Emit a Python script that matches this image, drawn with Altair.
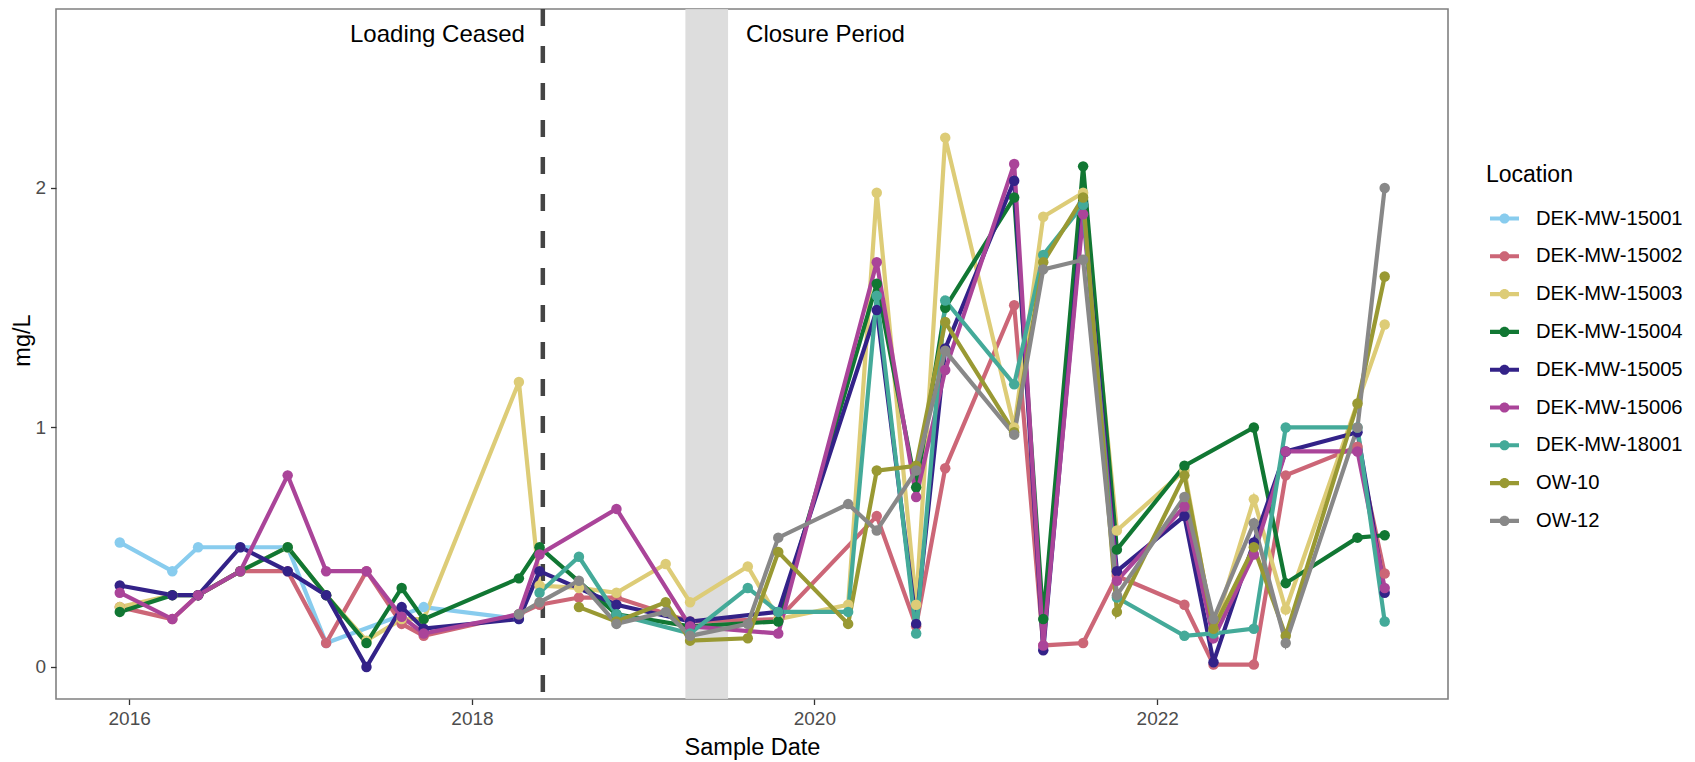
import altair as alt
import pandas as pd

# ---------------- data ----------------
dates = [
    "2015-12-12", "2016-04-02", "2016-05-27", "2016-08-25", "2016-12-04",
    "2017-02-24", "2017-05-21", "2017-08-04", "2017-09-20", "2018-04-11",
    "2018-05-25", "2018-08-17", "2018-11-05", "2019-02-18", "2019-04-11",
    "2019-08-12", "2019-10-16", "2020-03-13", "2020-05-13", "2020-08-05",
    "2020-10-06", "2021-03-02", "2021-05-03", "2021-07-27", "2021-10-07",
    "2022-02-28", "2022-05-01", "2022-07-26", "2022-10-02", "2023-03-04",
    "2023-05-01",
]

locations = ["DEK-MW-15001", "DEK-MW-15002", "DEK-MW-15003", "DEK-MW-15004",
             "DEK-MW-15005", "DEK-MW-15006", "DEK-MW-18001", "OW-10", "OW-12"]
colors = ["#88CCEE", "#CC6677", "#DDCC77", "#117733", "#332288",
          "#AA4499", "#44AA99", "#999933", "#888888"]

N = None
mw15001 = [0.52, 0.40, 0.50, 0.50, 0.50, 0.10, N, N, 0.25, 0.20,
           N, N, N, N, N, N, N, N, N, N,
           N, N, N, N, N, N, N, N, N, N, N]
mw15002 = [0.25, 0.20, 0.30, 0.40, 0.40, 0.10, 0.40, 0.18, 0.13, 0.22,
           0.26, 0.29, 0.29, N, 0.19, N, 0.20, N, 0.63, 0.17,
           0.83, 1.51, 0.09, 0.10, 0.38, 0.26, 0.01, 0.01, 0.80, 0.92, 0.39]
mw15003 = [0.25, 0.30, 0.30, 0.40, 0.50, 0.30, 0.11, 0.20, 0.20, 1.19,
           0.34, 0.33, 0.31, 0.43, 0.27, 0.42, 0.20, 0.26, 1.98, 0.26,
           2.21, 1.00, 1.88, 1.98, 0.57, 0.82, 0.15, 0.70, 0.24, N, 1.43]
mw15004 = [0.23, 0.30, 0.30, 0.40, 0.50, 0.30, 0.10, 0.33, 0.20, 0.37,
           0.50, N, 0.22, N, 0.17, N, 0.19, N, 1.60, 0.75,
           1.50, 1.96, 0.20, 2.09, 0.49, 0.84, N, 1.00, 0.35, 0.54, 0.55]
mw15005 = [0.34, 0.30, 0.30, 0.50, 0.40, 0.30, 0.00, 0.25, 0.16, 0.20,
           0.40, N, 0.26, N, 0.19, N, 0.23, N, 1.49, 0.18,
           1.33, 2.03, 0.07, 1.93, 0.40, 0.63, 0.02, 0.52, 0.90, 0.98, 0.31]
mw15006 = [0.31, 0.20, 0.30, 0.40, 0.80, 0.40, 0.40, 0.21, 0.14, 0.22,
           0.47, N, 0.66, N, 0.17, N, 0.14, N, 1.69, 0.71,
           1.24, 2.10, 0.09, 1.89, 0.36, 0.67, 0.12, 0.47, 0.90, 0.90, 0.33]
mw18001 = [N, N, N, N, N, N, N, N, N, N,
           0.31, 0.46, 0.22, N, 0.14, 0.33, 0.23, 0.23, 1.55, 0.14,
           1.53, 1.18, 1.72, 1.93, 0.29, 0.13, 0.14, 0.16, 1.00, 1.00, 0.19]
ow10 = [N, N, N, N, N, N, N, N, N, N,
        N, 0.25, 0.19, 0.27, 0.11, 0.12, 0.48, 0.18, 0.82, 0.84,
        1.44, 0.98, 1.69, 1.96, 0.23, 0.80, 0.16, 0.50, 0.13, 1.10, 1.63]
ow12 = [N, N, N, N, N, N, N, N, N, 0.22,
        0.27, 0.36, 0.18, 0.23, 0.13, 0.18, 0.54, 0.68, 0.57, 0.82,
        1.32, 0.97, 1.66, 1.70, 0.30, 0.71, 0.20, 0.60, 0.10, 1.00, 2.00]

series = [mw15001, mw15002, mw15003, mw15004, mw15005, mw15006, mw18001, ow10, ow12]

event_dates = ["2018-06-01"]
event_labels = ["Loading Ceased"]
closure_start = ["2019-04-01"]
closure_end = ["2019-07-01"]
closure_labels = ["Closure Period"]
label_level = [2.64]

# ---------------- tables ----------------
rows = []
for loc, vals in zip(locations, series):
    for d, v in zip(dates, vals):
        if v is not None:
            rows.append({"Date": d, "Location": loc, "Value": v})
df = pd.DataFrame(rows)

ev = pd.DataFrame({"Date": event_dates, "Label": event_labels, "Level": label_level})
cl = pd.DataFrame({"Start": closure_start, "End": closure_end,
                   "Label": closure_labels, "Level": label_level})

FONT = "Liberation Sans"
W, H = 1392, 690

x_scale = alt.Scale(domain=[alt.DateTime(year=2015, month=7, date=29),
                            alt.DateTime(year=2023, month=9, date=13)])
y_scale = alt.Scale(domain=[-0.1336, 2.747], nice=False, zero=False)
color_scale = alt.Scale(domain=locations, range=colors)

x_axis = alt.Axis(
    title="Sample Date",
    values=[alt.DateTime(year=y, month=1, date=1) for y in (2016, 2018, 2020, 2022)],
    format="%Y", grid=False, domain=False, labelPadding=5,
    titleBaseline="middle", titleY=48, titleAnchor="middle",
)
y_axis = alt.Axis(
    title="mg/L", values=[0, 1, 2], format="d", grid=False, domain=False,
    labelPadding=5,
    titleBaseline="middle", titleX=-34, titleY=331, titleAngle=-90,
)

legend_path = ("M-1,-0.14 L1,-0.14 L1,0.14 L-1,0.14 Z "
               "M-0.35,0 A0.35,0.35 0 1,1 0.35,0 "
               "A0.35,0.35 0 1,1 -0.35,0 Z")

shade = alt.Chart(cl).mark_rect(color="#d9d9d9", opacity=0.9).encode(
    x=alt.X("Start:T", scale=x_scale, axis=x_axis),
    x2="End:T",
)

rule = alt.Chart(ev).mark_rule(color="#444444", strokeWidth=4.5,
                               strokeDash=[17, 20]).encode(
    x=alt.X("Date:T", scale=x_scale),
)

lines = alt.Chart(df).mark_line(strokeWidth=4.2).encode(
    x=alt.X("Date:T", scale=x_scale, axis=x_axis),
    y=alt.Y("Value:Q", scale=y_scale, axis=y_axis),
    color=alt.Color("Location:N", scale=color_scale, legend=None),
    order=alt.Order("Date:T"),
)

points = alt.Chart(df).mark_point(filled=True, size=110, opacity=1).encode(
    x=alt.X("Date:T", scale=x_scale),
    y=alt.Y("Value:Q", scale=y_scale),
    color=alt.Color(
        "Location:N", scale=color_scale,
        legend=alt.Legend(
            title="Location", orient="none", legendX=1430, legendY=155,
            symbolType=legend_path, symbolSize=841, symbolStrokeWidth=0,
            symbolOffset=4, labelOffset=17, rowPadding=12.8, titlePadding=17,
            padding=0,
        ),
    ),
)

txt_left = alt.Chart(ev).mark_text(
    align="right", baseline="middle", dx=-18, fontSize=24, font=FONT, color="black"
).encode(
    x=alt.X("Date:T", scale=x_scale),
    y=alt.Y("Level:Q", scale=y_scale),
    text="Label:N",
)
txt_right = alt.Chart(cl).mark_text(
    align="left", baseline="middle", dx=18, fontSize=24, font=FONT, color="black"
).encode(
    x=alt.X("End:T", scale=x_scale),
    y=alt.Y("Level:Q", scale=y_scale),
    text="Label:N",
)

chart = alt.layer(shade, rule, lines, points, txt_left, txt_right).resolve_legend(
    color="independent"
).properties(
    width=W, height=H,
    autosize=alt.AutoSizeParams(type="none"),
    padding={"left": 48, "top": 1, "right": 239, "bottom": 62},
).configure(
    font=FONT,
).configure_view(
    stroke="#808080", strokeWidth=1.6, fill="white",
).configure_axis(
    labelFont=FONT, labelFontSize=19, labelColor="#4d4d4d",
    tickColor="#333333", tickWidth=1.3, tickSize=5.5,
    titleFont=FONT, titleFontSize=23.5, titleFontWeight="normal", titleColor="black",
).configure_legend(
    titleFont=FONT, titleFontSize=23, titleFontWeight="normal", titleColor="black",
    labelFont=FONT, labelFontSize=20.2, labelColor="black",
)

chart.save("out.html", embed_options={"renderer": "svg", "actions": False})
